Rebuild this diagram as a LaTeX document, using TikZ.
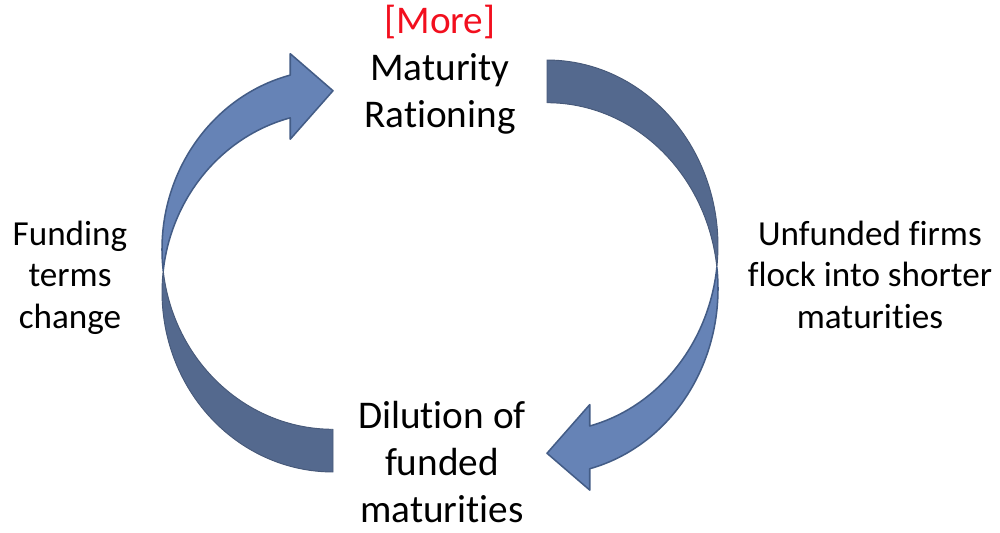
\documentclass[tikz,border=0pt]{standalone}
\usepackage{fontspec}
\setmainfont{Carlito}[Ligatures=NoCommon]
\definecolor{frontblue}{HTML}{6683B6}
\definecolor{edgeblue}{HTML}{435C86}
\definecolor{backblue}{HTML}{54698E}
\definecolor{moretxt}{HTML}{F20F1E}
\begin{document}
\begin{tikzpicture}[x=0.03cm, y=-0.03cm,
  front/.style={fill=frontblue, draw=edgeblue, line width=1.3pt, line join=round},
  back/.style={fill=backblue, draw=backblue!85!black, line width=0.8pt, line join=round},
  mainlabel/.style={font=\fontsize{33.5}{40}\selectfont, align=center, inner sep=0pt, text=black},
  sidelabel/.style={font=\fontsize{30}{35.3}\selectfont, align=center, inner sep=0pt, text=black}]
\useasboundingbox (0,0) rectangle (1000,533);
% left arrow: back (dark) part
\draw[back] (333,472)
  arc[start angle=90, end angle=186.82, x radius=171, y radius=179.94]
  arc[start angle=173.18, end angle=90, x radius=171, y radius=179.94] -- cycle;
% left arrow: front (light) part with head
\draw[front] (290.25,117.83) -- (290.25,139.2) -- (333,90.75) -- (290.25,53.7) -- (290.25,75.08)
  arc[start angle=255.52, end angle=173.18, x radius=171, y radius=179.94]
  arc[start angle=186.82, end angle=255.52, x radius=171, y radius=179.94] -- cycle;
% right arrow: back (dark) part
\draw[back] (547,60)
  arc[start angle=270, end angle=366.6, x radius=171, y radius=185.94]
  arc[start angle=353.4, end angle=270, x radius=171, y radius=185.94] -- cycle;
% right arrow: front (light) part with head
\draw[front] (589.75,425.98) -- (589.75,404.6) -- (547,453.25) -- (589.75,490.1) -- (589.75,468.73)
  arc[start angle=75.52, end angle=-6.6, x radius=171, y radius=185.94]
  arc[start angle=6.6, end angle=75.52, x radius=171, y radius=185.94] -- cycle;
% labels (anchor=base is the baseline of the last line)
\node[mainlabel, anchor=base] (rationing) at (440,127) {\textcolor{moretxt}{[More]}\\Maturity\\Rationing};
\node[mainlabel, anchor=base] (dilution) at (442,522) {Dilution of\\funded\\maturities};
\node[sidelabel, anchor=base] (funding) at (70,328) {Funding\\terms\\change};
\node[sidelabel, anchor=base] (unfunded) at (870,328) {Unfunded firms\\flock into shorter\\maturities};
\end{tikzpicture}
\end{document}
